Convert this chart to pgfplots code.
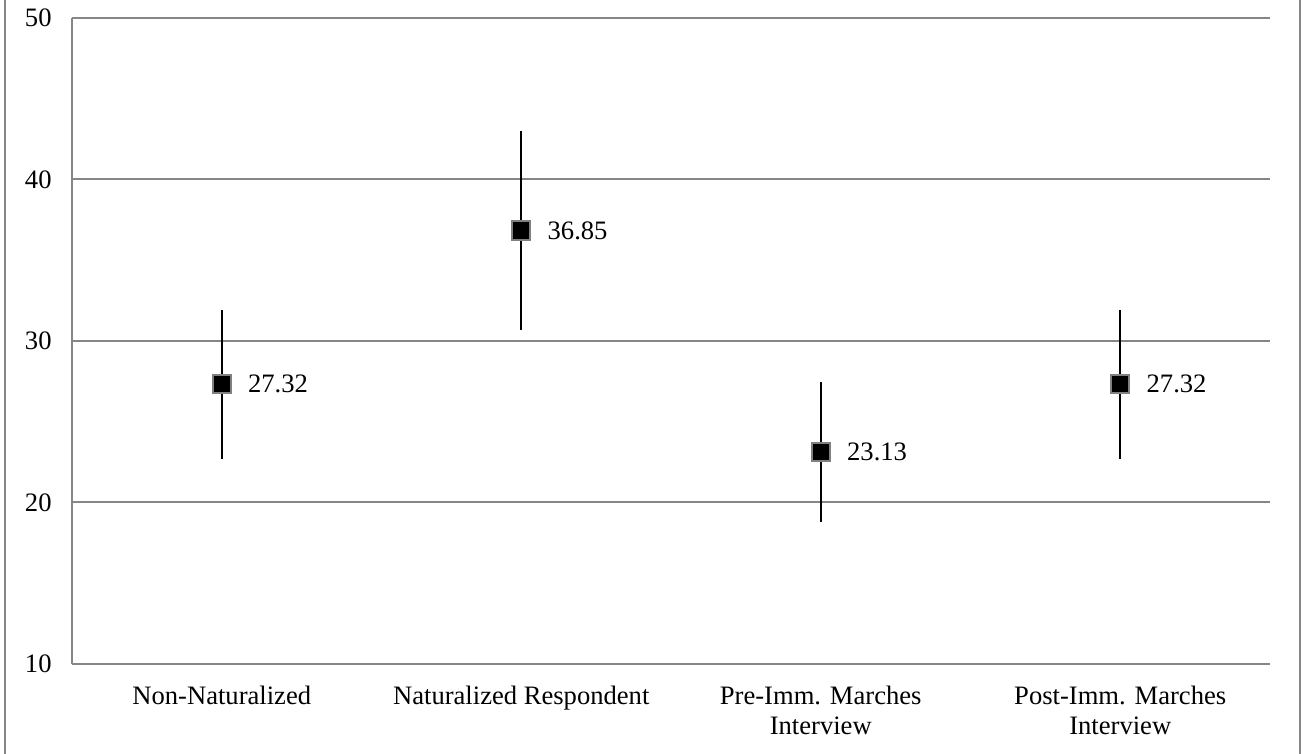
\documentclass[border=0pt]{standalone}
\usepackage{fontspec}
\setmainfont{Liberation Serif}
\usepackage{pgfplots}
\pgfplotsset{compat=1.18}
\definecolor{gridgray}{RGB}{134,134,134}
\definecolor{markgray}{RGB}{128,128,128}
\begin{document}
\begin{tikzpicture}
\useasboundingbox (0,0) rectangle (651.5pt,377pt);
\draw[gridgray, line width=1pt] (2.5pt,-5pt) -- (2.5pt,385pt);
\draw[gridgray, line width=1pt] (650pt,-5pt) -- (650pt,385pt);
\begin{axis}[
  at={(36pt,45pt)}, anchor=south west,
  scale only axis,
  width=599pt, height=323pt,
  xmin=-0.5, xmax=3.5,
  ymin=10, ymax=50,
  ytick={10,20,30,40,50},
  xtick={0,1,2,3},
  xticklabels={Non-Naturalized, Naturalized Respondent, Pre-Imm. Marches\\Interview, Post-Imm. Marches\\Interview},
  axis x line=bottom, axis y line=left,
  axis line style={draw=gridgray, line width=1pt, -},
  ymajorgrids,
  grid style={draw=gridgray, line width=1pt},
  major tick length=0pt,
  /pgf/number format/assume math mode=true,
  every tick label/.append style={font=\fontsize{13.3}{15}\selectfont},
  yticklabel style={anchor=east, inner sep=0pt, xshift=-10pt},
  xticklabel style={anchor=north, inner sep=0pt, yshift=-11pt, align=center},
  clip=false,
]
\addplot[
  only marks,
  mark=square*,
  mark size=4.6pt,
  mark options={fill=black, draw=markgray, line width=1pt},
  error bars/.cd, y dir=both, y explicit, error mark=none,
  error bar style={line width=1pt, black},
]
coordinates {
  (0,27.32) +- (0,4.6)
  (1,36.85) +- (0,6.17)
  (2,23.13) +- (0,4.35)
  (3,27.32) +- (0,4.6)
};
\addplot[
  only marks, mark=none,
  nodes near coords,
  point meta=explicit symbolic,
  every node near coord/.append style={anchor=west, inner sep=0pt, xshift=13pt, font=\fontsize{13.3}{15}\selectfont},
]
coordinates {
  (0,27.32) [27.32]
  (1,36.85) [36.85]
  (2,23.13) [23.13]
  (3,27.32) [27.32]
};
\end{axis}
\end{tikzpicture}
\end{document}
